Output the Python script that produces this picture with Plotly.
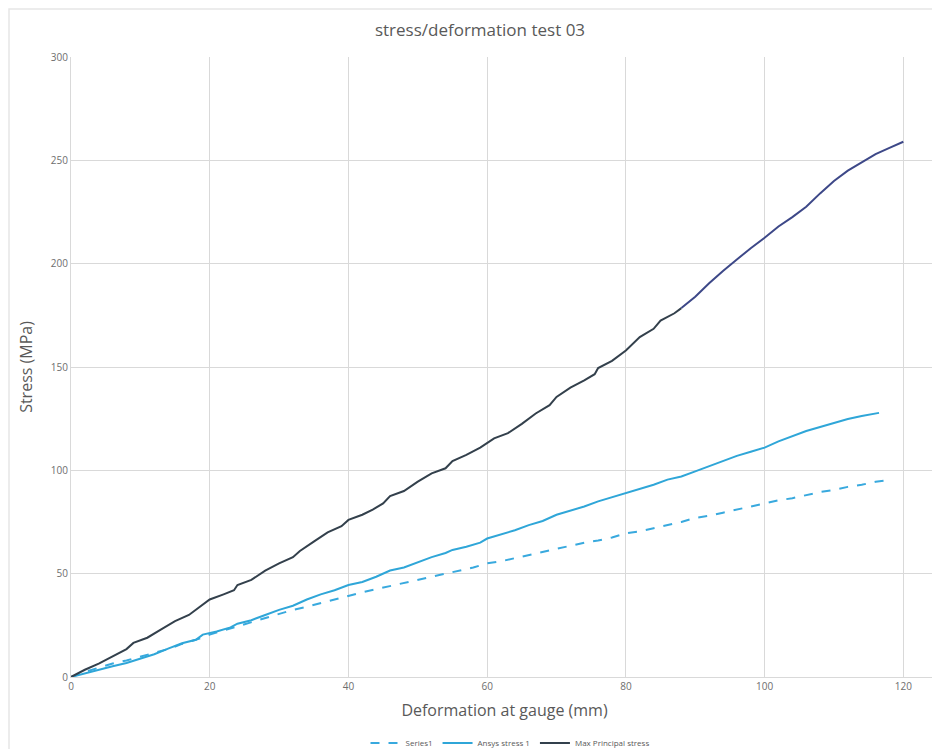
import plotly.graph_objects as go

# ---- data ----
max_x = [0, 2, 4, 6, 8, 9, 11, 13, 15, 17, 19, 20, 22, 23.5, 24, 26, 28, 30, 32, 33, 35, 37, 39, 40,
         42, 43.5, 45, 46, 48, 50, 52, 54, 55, 57, 59, 61, 63, 65, 67, 69, 70, 72, 74, 75.5, 76, 78,
         80, 82, 84, 85, 87, 88, 90, 92, 94, 96, 98, 100, 102, 104, 106, 108, 110, 112, 114, 116, 118, 120]
max_y = [0, 3.5, 6.5, 10, 13.5, 16.5, 19, 23, 27, 30, 35, 37.5, 40, 42, 44.5, 47, 51.5, 55, 58, 61, 65.5,
         70, 73, 76, 78.5, 81, 84, 87.5, 90, 94.5, 98.5, 101, 104.5, 107.5, 111, 115.5, 118, 122.5, 127.5,
         131.5, 135.5, 140, 143.5, 146.5, 149.5, 153, 158, 164.5, 168.5, 172.5, 176, 178.5, 184, 190.5,
         196.5, 202, 207.5, 212.5, 218, 222.5, 227.5, 234, 240, 245, 249, 253, 256, 259]

ansys_x = [0, 2, 4, 6, 8, 10, 12, 14, 16, 18, 19, 21, 23, 24, 26, 28, 30, 32, 34, 36, 38, 40, 42, 44, 46,
           48, 50, 52, 54, 55, 57, 59, 60, 62, 64, 66, 68, 70, 72, 74, 76, 78, 80, 82, 84, 86, 88, 90, 92,
           94, 96, 98, 100, 102, 104, 106, 108, 110, 112, 114, 116.5]
ansys_y = [0, 1.8, 3.6, 5.2, 6.8, 9, 11, 13.7, 16.3, 18, 20.5, 22, 24, 25.8, 27.5, 30, 32.5, 34.5, 37.5,
           40, 42, 44.5, 46, 48.5, 51.5, 53, 55.5, 58, 60, 61.5, 63, 65, 67, 69, 71, 73.5, 75.5, 78.5,
           80.5, 82.5, 85, 87, 89, 91.3, 93, 95.5, 97, 99.5, 102, 104.5, 107, 109, 111, 114, 116.5, 119,
           121, 123, 124.8, 126.3, 127.8]

s1_x = [0, 2, 4, 6, 8, 10, 12, 14, 16, 18, 20, 22, 24, 26, 28, 30, 32, 34, 36, 38, 40, 42, 44, 46, 48,
        50, 52, 54, 56, 58, 60, 62, 64, 66, 68, 70, 72, 74, 76, 78, 80, 82, 84, 86, 88, 90, 92, 94, 96,
        98, 100, 102, 104, 106, 108, 110, 112, 114, 116, 118]
s1_y = [0, 2.5, 4.5, 6.5, 8, 9.8, 11.5, 13.5, 16, 18, 20.5, 22.5, 24.5, 26.5, 28.5, 30.5, 32.5, 34,
        35.8, 37.5, 39.5, 41, 42.5, 44, 45.5, 47, 48.5, 50, 51.5, 53, 55, 56, 57.5, 59, 60.5, 62, 63.5,
        65, 66, 67.5, 69.5, 70.5, 72, 73.5, 75, 77, 78, 79.5, 81, 82.5, 84, 85.5, 86.5, 88, 89.5, 90.5,
        92, 93, 94.5, 95.3]

x_ticks = [0, 20, 40, 60, 80, 100, 120]
y_ticks = [0, 50, 100, 150, 200, 250, 300]

FONT = "Open Sans, Liberation Sans, sans-serif"
TXT = "#595959"
TICK = "#6e6e6e"
GRID = "#d9d9d9"

# the page body adds an 8px offset, so the figure is 8px smaller than the window
W, H = 932, 741
L, R, T, B = 63, 2, 49, 72
PW, PH = W - L - R, H - T - B

split = max_x.index(88)

fig = go.Figure()
fig.add_trace(go.Scatter(x=s1_x, y=s1_y, mode="lines", name="Series1",
                         line=dict(color="#38a9de", width=2, dash="dash")))
fig.add_trace(go.Scatter(x=ansys_x, y=ansys_y, mode="lines", name="Ansys stress 1",
                         line=dict(color="#2fa6d8", width=2)))
fig.add_trace(go.Scatter(x=max_x[:split + 1], y=max_y[:split + 1], mode="lines",
                         name="Max Principal stress", legendgroup="mp",
                         line=dict(color="#33404c", width=2)))
fig.add_trace(go.Scatter(x=max_x[split:], y=max_y[split:], mode="lines",
                         name="Max Principal stress", legendgroup="mp", showlegend=False,
                         line=dict(color="#3d4888", width=2)))

fig.update_layout(
    width=W, height=H,
    margin=dict(l=L, r=R, t=T, b=B, autoexpand=False),
    paper_bgcolor="white", plot_bgcolor="white",
    font=dict(family=FONT, color=TXT),
    title=dict(text="stress/deformation test 03", x=472 / W, xanchor="center",
               y=1 - 22 / H, yanchor="middle", font=dict(size=17, color=TXT)),
    showlegend=True,
    legend=dict(orientation="h", x=(502 - L) / PW, xanchor="center", y=-(735 - (H - B)) / PH,
                yanchor="middle", font=dict(size=8, color=TXT), itemwidth=30,
                bgcolor="rgba(0,0,0,0)"),
    xaxis=dict(range=[0, 125], tickvals=x_ticks, ticktext=[str(v) for v in x_ticks],
               showgrid=True, gridcolor=GRID, gridwidth=1, zeroline=False, automargin=False,
               showline=True, linecolor=GRID, linewidth=1,
               tickfont=dict(size=10, color=TICK), ticks="",
               title=dict(text="Deformation at gauge (mm)", font=dict(size=16, color=TXT), standoff=12)),
    yaxis=dict(range=[0, 300], tickvals=y_ticks, ticktext=[str(v) for v in y_ticks],
               showgrid=True, gridcolor=GRID, gridwidth=1, zeroline=False, automargin=False,
               showline=True, linecolor=GRID, linewidth=1,
               tickfont=dict(size=10, color=TICK), ticks="",
               title=dict(text="Stress (MPa)", font=dict(size=16, color=TXT), standoff=14)),
)

fig.add_shape(type="rect", xref="paper", yref="paper",
              x0=-(L - 1) / PW, x1=(W + 10 - L) / PW,
              y0=-(B + 10) / PH, y1=1 + (T - 1) / PH,
              line=dict(color="#e6e6e6", width=1.5), fillcolor="rgba(0,0,0,0)", layer="below")

fig.write_html("out.html")
